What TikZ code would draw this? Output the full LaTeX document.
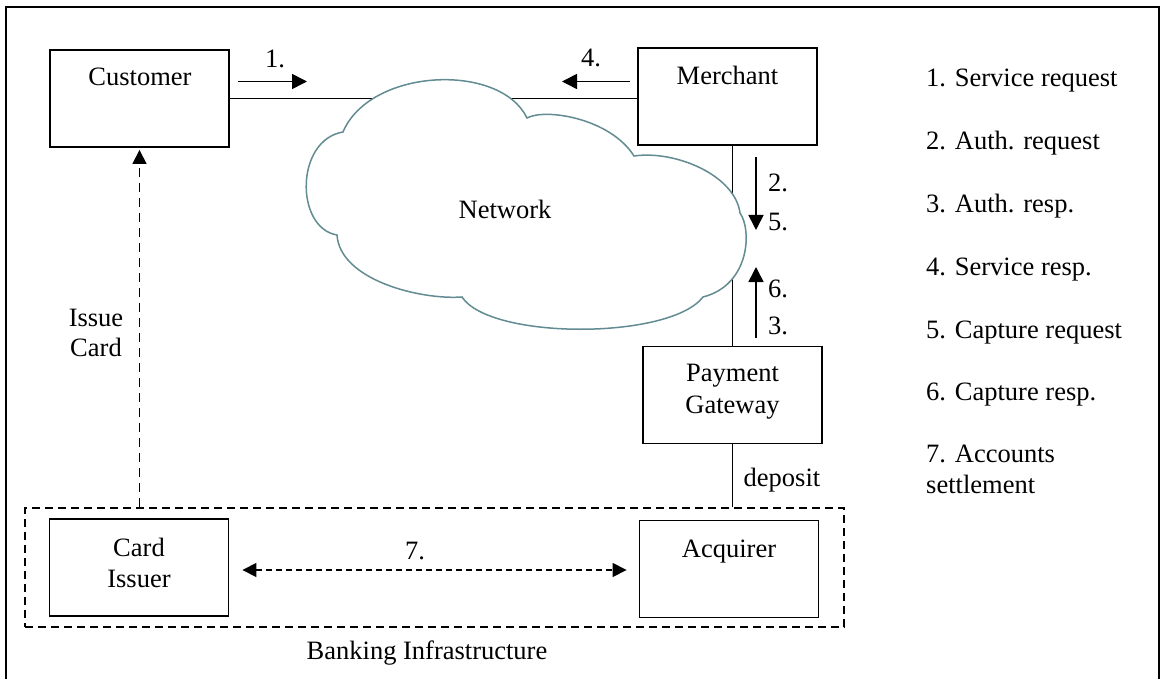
\documentclass[tikz,border=0pt]{standalone}
\usepackage{fontspec}
\setmainfont{Liberation Serif}
\usetikzlibrary{arrows.meta}
\definecolor{cloudline}{RGB}{98,140,146}
\tikzset{
  box/.style={draw, line width=1.9pt, inner sep=0pt, minimum width=179pt, minimum height=97pt},
  txt/.style={inner sep=0pt, anchor=base},
  ltxt/.style={inner sep=0pt, anchor=base west},
  wire/.style={line width=1.7pt},
  flow/.style={line width=1.6pt, -{Triangle[length=15pt,width=15pt]}},
  issuearrow/.style={line width=1.5pt, dash pattern=on 9pt off 6pt, -{Triangle[length=14pt,width=14pt]}},
  settlearrow/.style={line width=1.6pt, dash pattern=on 6pt off 4pt, {Triangle[length=14pt,width=14pt]}-{Triangle[length=14pt,width=14pt]}},
  bankframe/.style={draw, line width=1.6pt, dash pattern=on 8pt off 5pt, inner sep=0pt, minimum width=819pt, minimum height=119pt}
}
\begin{document}
\begin{tikzpicture}[x=1pt, y=1pt, font=\fontsize{26.5}{31}\selectfont]
\useasboundingbox (0,0) rectangle (1162,-679);
% outer frame (open at the bottom)
\draw[line width=2.2pt] (6,-690) -- (6,-7) -- (1159,-7) -- (1159,-690);

% parties
\node[box] (cust) at (139.5,-98.5) {};
\node[box] (merch) at (727.5,-96.5) {};
\node[box] (pg) at (732.5,-395) {};
\node[box] (ci) at (139,-567.5) {};
\node[box] (acq) at (729,-569) {};
\node[bankframe] (bank) at (434.5,-567.5) {};

\node[txt] (custT) at (140,-86) {Customer};
\node[txt] (merchT) at (727.5,-84.5) {Merchant};
\node[txt] (pgT1) at (732.5,-381) {Payment};
\node[txt] (pgT2) at (732.5,-413) {Gateway};
\node[txt] (ciT1) at (139,-556) {Card};
\node[txt] (ciT2) at (139,-587) {Issuer};
\node[txt] (acqT) at (729,-557) {Acquirer};
\node[txt] (bankT) at (427,-659) {Banking Infrastructure};

% links (the cloud is drawn on top of them)
\draw[wire] (cust.east) -- (cust.east -| merch.west);
\draw[wire] (pg.north) -- (pg.north |- merch.south);
\draw[wire] (pg.south) -- (pg.south |- bank.north);

% network cloud
\path[draw=cloudline, fill=white, line width=1.5pt]
  (343,-132) .. controls (370,-68) and (500,-62) .. (527,-118)
  .. controls (545,-108) and (610,-118) .. (634,-156)
  .. controls (675,-150) and (735,-175) .. (740,-213)
  .. controls (752,-230) and (750,-285) .. (703,-297)
  .. controls (670,-340) and (490,-340) .. (462,-297)
  .. controls (420,-300) and (340,-280) .. (337,-235)
  .. controls (295,-228) and (295,-140) .. (343,-132) -- cycle;
\node[txt] (netT) at (505,-219) {Network};

% message arrows
\coordinate (m1a) at (238,-81.5);  \coordinate (m1b) at (307,-81.5);
\coordinate (m4a) at (630,-81.5);  \coordinate (m4b) at (562,-81.5);
\coordinate (m25a) at (756,-157); \coordinate (m25b) at (756,-230);
\coordinate (m63a) at (756,-338); \coordinate (m63b) at (756,-267);
\draw[flow] (m1a) -- (m1b);
\draw[flow] (m4a) -- (m4b);
\draw[flow] (m25a) -- (m25b);
\draw[flow] (m63a) -- (m63b);
\node[txt] (l1) at (275,-68) {1.};
\node[txt] (l4) at (591,-67) {4.};
\node[ltxt] (l2) at (768,-192) {2.};
\node[ltxt] (l5) at (768,-231) {5.};
\node[ltxt] (l6) at (768,-297) {6.};
\node[ltxt] (l3) at (768,-334) {3.};
\node[txt] (dep) at (782,-486) {deposit};

% card issuing and settlement
\draw[issuearrow, shorten >=2pt] (bank.north -| cust.south) -- (cust.south);
\node[txt] (iss1) at (96,-326) {Issue};
\node[txt] (iss2) at (96,-356) {Card};
\draw[settlearrow, shorten <=13pt, shorten >=12pt] ([yshift=-2.5pt]ci.east) -- ([yshift=-2.5pt]ci.east -| acq.west);
\node[txt] (l7) at (415,-559) {7.};

% legend
\node[ltxt] (g1) at (926,-87) {1. Service request};
\node[ltxt] (g2) at (926,-150) {2. Auth. request};
\node[ltxt] (g3) at (926,-213) {3. Auth. resp.};
\node[ltxt] (g4) at (926,-275) {4. Service resp.};
\node[ltxt] (g5) at (926,-338) {5. Capture request};
\node[ltxt] (g6) at (926,-400) {6. Capture resp.};
\node[ltxt] (g7) at (926,-462) {7. Accounts};
\node[ltxt] (g7b) at (926,-493) {settlement};
\end{tikzpicture}
\end{document}
